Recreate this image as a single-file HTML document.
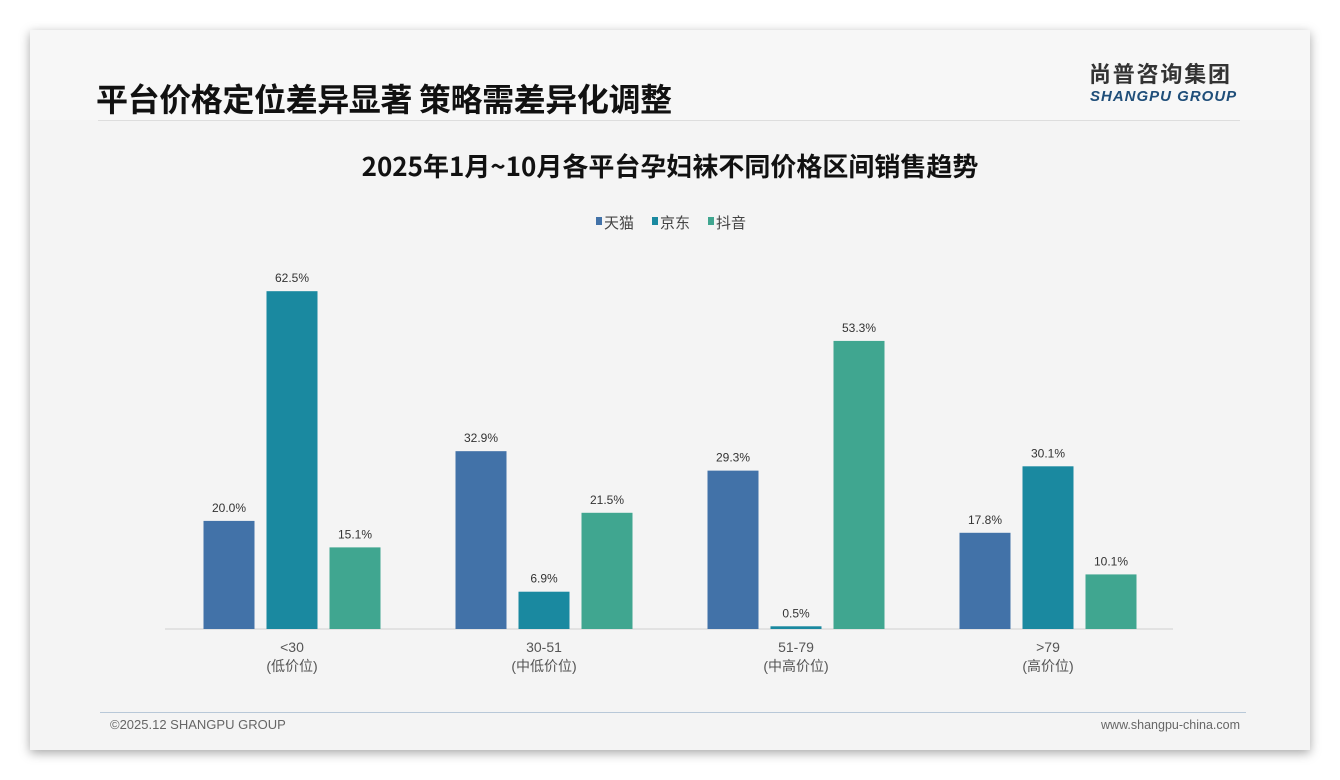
<!DOCTYPE html>
<html><head><meta charset="utf-8"><style>
body{margin:0;width:1340px;height:780px;background:#fff;font-family:"Liberation Sans","Noto Sans CJK SC",sans-serif;overflow:hidden}
#card{position:absolute;left:30px;top:30px;width:1280px;height:720px;background:#f4f4f4;box-shadow:0 3px 10px rgba(0,0,0,0.35)}
#hdr{position:absolute;left:0;top:0;width:1280px;height:90px;background:#f7f7f7}
.abs{position:absolute;white-space:nowrap}
</style></head><body>
<div id="card">
<div id="hdr"></div>
<div class="abs" style="left:66px;top:45px;font-size:32px;font-weight:bold;color:#111;font-family:'Noto Sans CJK SC',sans-serif;letter-spacing:-0.4px">平台价格定位差异显著 策略需差异化调整</div>
<div class="abs" style="left:1059px;top:30px;font-size:22px;line-height:26px;font-weight:bold;color:#333;font-family:'Noto Sans CJK SC',sans-serif;letter-spacing:1.8px">尚普咨询集团</div>
<div class="abs" style="left:1060px;top:58px;font-size:15px;font-weight:bold;font-style:italic;color:#1f4e79;letter-spacing:1px">SHANGPU GROUP</div>
<div class="abs" style="left:68px;top:90px;width:1142px;height:1px;background:#ddd"></div>
<div class="abs" style="left:70px;top:682px;width:1146px;height:1px;background:#b8c8d8"></div>
<div class="abs" style="left:80px;top:687px;font-size:13px;color:#666">©2025.12 SHANGPU GROUP</div>
<div class="abs" style="right:70px;top:688px;font-size:12.5px;color:#666">www.shangpu-china.com</div>
</div>
<svg id="chart" width="1340" height="780" style="position:absolute;left:0;top:0">
<text x="670" y="176" text-anchor="middle" font-size="26" font-weight="bold" fill="#111" font-family="'Noto Sans CJK SC',sans-serif">2025年1月~10月各平台孕妇袜不同价格区间销售趋势</text>
<g id="legend"></g>
<line x1="165" y1="629" x2="1173" y2="629" stroke="#d0d0d0"/>
<g id="bars"></g>
</svg>
<script>
const categories=["<30","30-51","51-79",">79"];
const subLabels=["(低价位)","(中低价位)","(中高价位)","(高价位)"];
const seriesNames=["天猫","京东","抖音"];
const tmall=[20.0,32.9,29.3,17.8];
const jd=[62.5,6.9,0.5,30.1];
const douyin=[15.1,21.5,53.3,10.1];
const colors=["#4272a8","#1a89a0","#40a690"];
const series=[tmall,jd,douyin];
const NS="http://www.w3.org/2000/svg";
const base=629,pxPer=5.405,x0=292,step=252,off=63,bw=51;
function y(v){return base-v*pxPer;}
function xc(i,s){return x0+i*step+(s-1)*off;}
const g=document.getElementById('bars');
function mk(t,a){const e=document.createElementNS(NS,t);for(const k in a)e.setAttribute(k,a[k]);return e;}
series.forEach((arr,s)=>{arr.forEach((v,i)=>{
 const r=mk('rect',{x:xc(i,s)-bw/2,y:y(v),width:bw,height:base-y(v),fill:colors[s]});
 
 
 g.appendChild(r);
 const t=mk('text',{x:xc(i,s),y:y(v)-9,'text-anchor':'middle','font-size':12,fill:'#333'});
 t.textContent=v.toFixed(1)+'%';
 
 
 g.appendChild(t);
});});
categories.forEach((c,i)=>{
 const t=mk('text',{x:x0+i*step,y:652,'text-anchor':'middle','font-size':14,fill:'#555'});
 t.textContent=c;
 
 
 g.appendChild(t);
 const t2=mk('text',{x:x0+i*step,y:671,'text-anchor':'middle','font-size':14,fill:'#555'});
 t2.textContent=subLabels[i];
 
 
 g.appendChild(t2);
});
const lg=document.getElementById('legend');
const lx=[596,652,708];
seriesNames.forEach((n,s)=>{
 const r=mk('rect',{x:lx[s],y:217,width:6,height:8,fill:colors[s]});
 
 
 lg.appendChild(r);
 const t=mk('text',{x:lx[s]+8,y:228,'font-size':15,fill:'#444'});
 t.textContent=n;
 
 
 lg.appendChild(t);
});
</script>
</body></html>
